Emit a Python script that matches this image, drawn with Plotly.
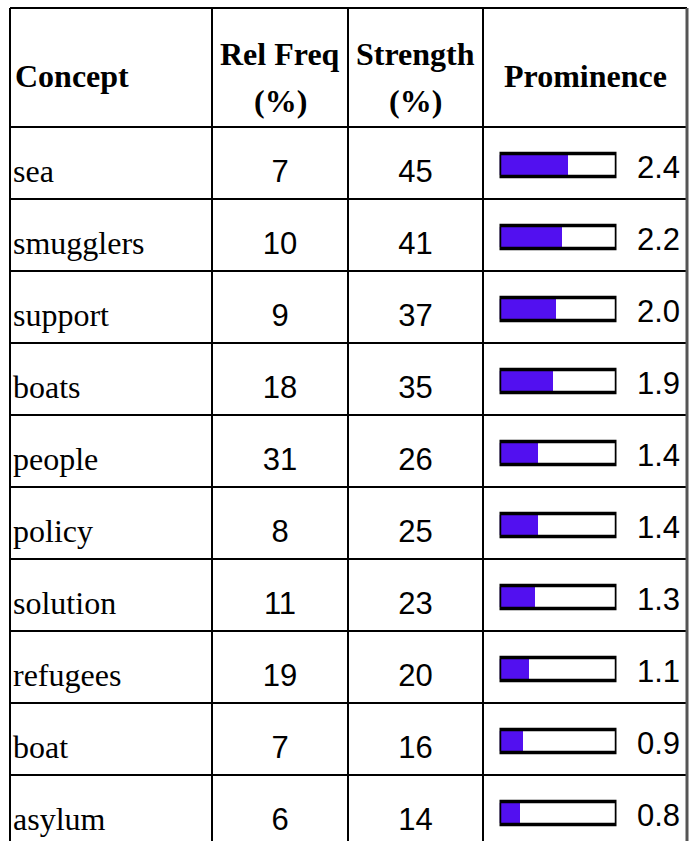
import plotly.graph_objects as go

# ---------------- data ----------------
concepts = ["sea", "smugglers", "support", "boats", "people", "policy",
            "solution", "refugees", "boat", "asylum"]
rel_freq = [7, 10, 9, 18, 31, 8, 11, 19, 7, 6]
strength = [45, 41, 37, 35, 26, 25, 23, 20, 16, 14]
prominence = [2.4, 2.2, 2.0, 1.9, 1.4, 1.4, 1.3, 1.1, 0.9, 0.8]
header_line1 = ["Concept", "Rel Freq", "Strength", "Prominence"]
header_line2 = ["", "(%)", "(%)", ""]

# ---------------- layout constants ----------------
W, H = 696, 841
ROW_H = 72.0
HEADER_TOP_PX = 8
HEADER_BOT_PX = 127
COL_EDGES = [10, 212, 348, 483, 687]
BAR_LEFT, BAR_RIGHT = 499.5, 616.5        # outline centre-lines (px)
PROM_MIN, PROM_MAX = 0.1167, 4.0167        # value scale of the gauge
BAR_COLOR = "#5210f0"
SERIF = "Liberation Serif, Times New Roman, serif"
SANS = "Liberation Sans, Arial, sans-serif"
FS = 32


def px2row(ypx):
    return (ypx - HEADER_BOT_PX) / ROW_H - 0.5


n = len(concepts)
rows = list(range(n))
y_top = px2row(0)
y_bot = px2row(H)
header_top = px2row(HEADER_TOP_PX)
table_bottom = px2row(H + 10)

fig = go.Figure()

# gauge fill
fig.add_trace(go.Bar(
    orientation="h", y=rows, x=[v - PROM_MIN for v in prominence], base=PROM_MIN,
    xaxis="x2", yaxis="y", width=20 / ROW_H, offset=-10 / ROW_H + 2 / ROW_H,
    marker=dict(color=BAR_COLOR, line=dict(width=0)), hoverinfo="skip",
    showlegend=False))
# gauge outline
fig.add_trace(go.Bar(
    orientation="h", y=rows, x=[PROM_MAX - PROM_MIN] * n, base=PROM_MIN,
    xaxis="x2", yaxis="y", width=23 / ROW_H, offset=-11.5 / ROW_H + 2 / ROW_H,
    marker=dict(color="rgba(0,0,0,0)", line=dict(width=3.5, color="black")),
    hoverinfo="skip", showlegend=False))

# concept names
fig.add_trace(go.Scatter(
    x=[COL_EDGES[0] + 3] * n, y=[r + 11 / ROW_H for r in rows], mode="text",
    text=concepts, textposition="middle right",
    textfont=dict(family=SERIF, size=FS, color="black"),
    hoverinfo="skip", showlegend=False))
# rel freq
fig.add_trace(go.Scatter(
    x=[(COL_EDGES[1] + COL_EDGES[2]) / 2] * n, y=[r + 11 / ROW_H for r in rows],
    mode="text", text=[str(v) for v in rel_freq], textposition="middle center",
    textfont=dict(family=SANS, size=31, color="black"),
    hoverinfo="skip", showlegend=False))
# strength
fig.add_trace(go.Scatter(
    x=[(COL_EDGES[2] + COL_EDGES[3]) / 2] * n, y=[r + 11 / ROW_H for r in rows],
    mode="text", text=[str(v) for v in strength], textposition="middle center",
    textfont=dict(family=SANS, size=31, color="black"),
    hoverinfo="skip", showlegend=False))
# prominence values
fig.add_trace(go.Scatter(
    x=[680] * n, y=[r + 7 / ROW_H for r in rows], mode="text",
    text=[f"{v:.1f}" for v in prominence], textposition="middle left",
    textfont=dict(family=SANS, size=31, color="black"),
    hoverinfo="skip", showlegend=False))

# grid lines
shapes = []
hlines = [header_top] + [r - 0.5 for r in range(n + 1)]
for yy in hlines:
    shapes.append(dict(type="line", xref="x", yref="y", x0=COL_EDGES[0], x1=COL_EDGES[-1],
                       y0=yy, y1=yy, line=dict(color="black", width=2)))
for i, xx in enumerate(COL_EDGES):
    last = i == len(COL_EDGES) - 1
    shapes.append(dict(type="line", xref="x", yref="y", x0=xx, x1=xx,
                       y0=header_top, y1=table_bottom,
                       line=dict(color="#555555" if last else "black",
                                 width=3 if last else 2)))

# header labels
annotations = []
for i in range(4):
    xc = (COL_EDGES[i] + COL_EDGES[i + 1]) / 2
    xa = "center"
    if i == 0:
        xc, xa = COL_EDGES[0] + 3, "left"
    if header_line2[i]:
        lines = [(header_line1[i], px2row(54)), (header_line2[i], px2row(101))]
    else:
        lines = [(header_line1[i], px2row(76))]
    for txt, yy in lines:
        annotations.append(dict(x=xc, y=yy, xref="x", yref="y",
                                text="<b>" + txt + "</b>", showarrow=False,
                                xanchor=xa, yanchor="middle",
                                font=dict(family=SERIF, size=FS, color="black")))

fig.update_layout(
    width=W, height=H, margin=dict(l=0, r=0, t=0, b=0),
    paper_bgcolor="white", plot_bgcolor="white",
    barmode="overlay", shapes=shapes, annotations=annotations,
    xaxis=dict(range=[0, W], domain=[0, 1], visible=False, fixedrange=True),
    xaxis2=dict(range=[PROM_MIN, PROM_MAX], domain=[BAR_LEFT / W, BAR_RIGHT / W],
                anchor="y", visible=False, fixedrange=True),
    yaxis=dict(range=[y_bot, y_top], visible=False, fixedrange=True),
)

fig.write_html("out.html", config={"displayModeBar": False},
               post_script="document.body.style.margin='0';document.body.style.overflow='hidden';")
